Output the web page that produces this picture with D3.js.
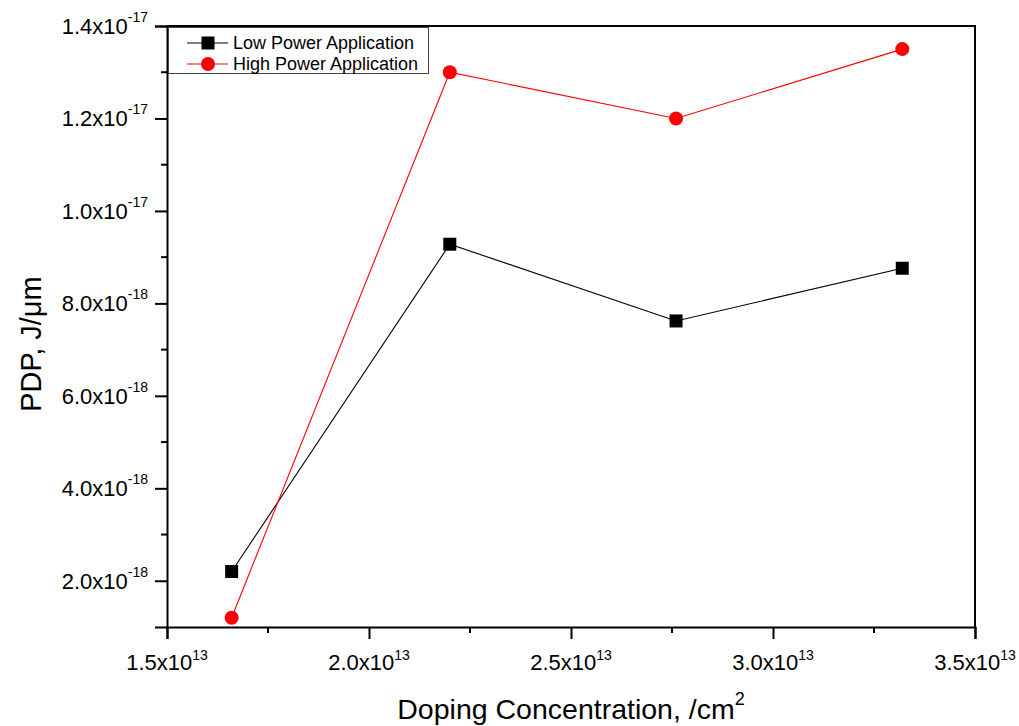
<!DOCTYPE html>
<html>
<head>
<meta charset="utf-8">
<script src="https://cdn.jsdelivr.net/npm/d3@7"></script>
<style>
  html, body { margin: 0; padding: 0; background: #fff; }
  svg { display: block; font-family: "Liberation Sans", Arial, sans-serif; }
</style>
</head>
<body>
<svg id="chart" width="1019" height="726"></svg>
<script>
// Doping concentration (/cm^2) for each device
const doping = [1.66e13, 2.20e13, 2.76e13, 3.32e13];
// Power-delay product (J/um)
const lowPower  = [2.2e-18, 9.28e-18, 7.62e-18, 8.76e-18];
const highPower = [1.2e-18, 1.30e-17, 1.20e-17, 1.35e-17];
const seriesNames = ["Low Power Application", "High Power Application"];

// Axis ticks: [mantissa, exponent]
const xTicks = [[1.5, 13], [2.0, 13], [2.5, 13], [3.0, 13], [3.5, 13]];
const yTicks = [[2.0, -18], [4.0, -18], [6.0, -18], [8.0, -18], [1.0, -17], [1.2, -17], [1.4, -17]];
const xMinor = [1.75e13, 2.25e13, 2.75e13, 3.25e13];
const yMinor = [3e-18, 5e-18, 7e-18, 9e-18, 1.1e-17, 1.3e-17];

const svg = d3.select("#chart");
const L = 167, R = 975, T = 26, B = 627;

const x = d3.scaleLinear().domain([1.5e13, 3.5e13]).range([L, R]);
const y = d3.scaleLinear().domain([1e-18, 1.4e-17]).range([B, T]);

const tickVal = t => t[0] * Math.pow(10, t[1]);

// Frame (top and right edges)
svg.append("path")
  .attr("d", `M${L},${T}H${R}V${B}`)
  .attr("fill", "none").attr("stroke", "#000").attr("stroke-width", 2);

// Bottom axis
const xAxis = svg.append("g").attr("transform", `translate(0,${B})`);
xAxis.call(d3.axisBottom(x).tickValues(xTicks.map(tickVal)).tickSize(12).tickFormat(""))
  .call(g => g.select(".domain").attr("stroke-width", 2))
  .call(g => g.selectAll(".tick line").attr("stroke-width", 2));
xAxis.selectAll(".minor").data(xMinor).enter().append("line")
  .attr("x1", d => x(d)).attr("x2", d => x(d)).attr("y1", 0).attr("y2", 6)
  .attr("stroke", "#000").attr("stroke-width", 2);
const xl = svg.append("g").selectAll("text").data(xTicks).enter().append("text")
  .attr("x", d => x(tickVal(d))).attr("y", 670)
  .attr("text-anchor", "middle").attr("font-size", 22).attr("fill", "#000");
xl.append("tspan").text(d => d[0].toFixed(1) + "x10");
xl.append("tspan").attr("dy", -10).attr("font-size", 14).text(d => d[1]);

// Left axis
const yAxis = svg.append("g").attr("transform", `translate(${L},0)`);
yAxis.call(d3.axisLeft(y).tickValues(yTicks.map(tickVal)).tickSize(12).tickFormat(""))
  .call(g => g.select(".domain").attr("stroke-width", 2))
  .call(g => g.selectAll(".tick line").attr("stroke-width", 2));
yAxis.selectAll(".minor").data(yMinor).enter().append("line")
  .attr("y1", d => y(d)).attr("y2", d => y(d)).attr("x1", 0).attr("x2", -6)
  .attr("stroke", "#000").attr("stroke-width", 2);
const yl = svg.append("g").selectAll("text").data(yTicks).enter().append("text")
  .attr("x", 148).attr("y", d => y(tickVal(d)) + 8)
  .attr("text-anchor", "end").attr("font-size", 22).attr("fill", "#000");
yl.append("tspan").text(d => d[0].toFixed(1) + "x10");
yl.append("tspan").attr("dy", -12).attr("font-size", 14).text(d => d[1]);

// Axis titles
const xt = svg.append("text").attr("x", (L + R) / 2).attr("y", 719)
  .attr("text-anchor", "middle").attr("font-size", 28.5).attr("fill", "#000");
xt.append("tspan").text("Doping Concentration, /cm");
xt.append("tspan").attr("dy", -14).attr("font-size", 18).text("2");

svg.append("text")
  .attr("transform", `translate(41,344) rotate(-90)`)
  .attr("text-anchor", "middle").attr("font-size", 29).attr("fill", "#000")
  .text("PDP, J/\u03bcm");

// Series
const series = [
  { name: seriesNames[0], values: lowPower, color: "#000000", shape: "square" },
  { name: seriesNames[1], values: highPower, color: "#ff0000", shape: "circle" }
];
const line = d3.line().x((d, i) => x(doping[i])).y(d => y(d));

function drawMarker(g, shape, color, cx, cy) {
  if (shape === "square") {
    g.append("rect").attr("x", cx - 6.5).attr("y", cy - 6.5).attr("width", 13).attr("height", 13)
      .attr("fill", color);
  } else {
    g.append("circle").attr("cx", cx).attr("cy", cy).attr("r", 7).attr("fill", color);
  }
}

series.forEach(s => {
  svg.append("path").datum(s.values).attr("d", line)
    .attr("fill", "none").attr("stroke", s.color).attr("stroke-width", 1.1);
  const g = svg.append("g");
  s.values.forEach((v, i) => drawMarker(g, s.shape, s.color, x(doping[i]), y(v)));
});

// Legend
const lg = svg.append("g");
lg.append("rect").attr("x", 168.5).attr("y", 27.5).attr("width", 260).attr("height", 46)
  .attr("fill", "#fff").attr("stroke", "#444").attr("stroke-width", 1);
series.forEach((s, i) => {
  const cy = 43 + i * 21;
  lg.append("line").attr("x1", 187).attr("x2", 228).attr("y1", cy).attr("y2", cy)
    .attr("stroke", s.color).attr("stroke-width", 1.1);
  drawMarker(lg, s.shape, s.color, 208, cy);
  lg.append("text").attr("x", 233).attr("y", cy + 6).attr("font-size", 18).attr("fill", "#000")
    .text(s.name);
});
</script>
</body>
</html>
